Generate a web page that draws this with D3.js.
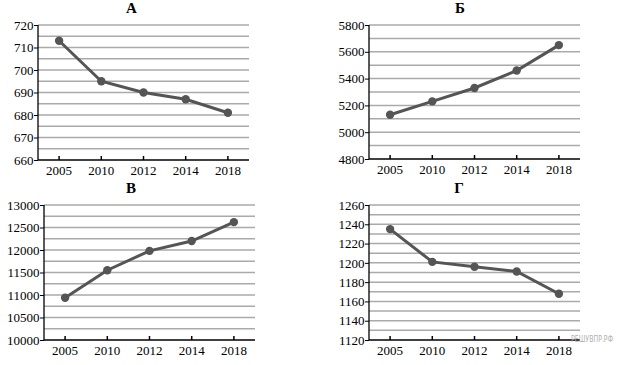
<!DOCTYPE html>
<html><head><meta charset="utf-8">
<script src="https://cdn.jsdelivr.net/npm/d3@7"></script>
<style>body{margin:0;background:#fff}svg{display:block}
.ser{font-family:"Liberation Serif","Times New Roman",Times,serif}</style>
</head><body>
<svg id="c" width="620" height="365"></svg>
<script>
const years = ["2005","2010","2012","2014","2018"];
const titles = ["А","Б","В","Г"];
const valuesA = [713, 695, 690, 687, 681];
const valuesB = [5130, 5230, 5330, 5460, 5650];
const valuesV = [10940, 11550, 11980, 12200, 12620];
const valuesG = [1235, 1201, 1196, 1191, 1168];
const domainsY = [[660,720],[4800,5800],[10000,13000],[1120,1260]];
const ticksY = [
  [660,670,680,690,700,710,720],
  [4800,5000,5200,5400,5600,5800],
  [10000,10500,11000,11500,12000,12500,13000],
  [1120,1140,1160,1180,1200,1220,1240,1260]
];
const gridSteps = [5, 100, 250, 10];
const series = [valuesA, valuesB, valuesV, valuesG];

const panels = [
  {x0:38, x1:249, y0:25, y1:160, tx:131.5, ty:13},
  {x0:369, x1:580, y0:25, y1:159, tx:460, ty:13},
  {x0:44, x1:255, y0:205, y1:340, tx:131, ty:193},
  {x0:369, x1:580, y0:205, y1:340, tx:459, ty:193}
];
const svg = d3.select("#c");
const col = "#555";

panels.forEach((p,i)=>{
  const g = svg.append("g");
  const x = d3.scaleBand().domain(years).range([p.x0,p.x1]);
  const y = d3.scaleLinear().domain(domainsY[i]).range([p.y1,p.y0]);
  const [d0,d1] = domainsY[i];
  const grid = d3.range(d0+gridSteps[i], d1+gridSteps[i]/2, gridSteps[i]);
  g.selectAll("line.grid").data(grid).join("line")
    .attr("x1",p.x0).attr("x2",p.x1)
    .attr("y1",d=>y(d)).attr("y2",d=>y(d))
    .attr("stroke","#aaa").attr("stroke-width",1.5);
  // y axis
  const ya = g.append("g").attr("transform",`translate(${p.x0},0)`)
    .call(d3.axisLeft(y).tickValues(ticksY[i]).tickSize(4).tickPadding(0.5).tickFormat(d3.format("d")));
  ya.attr("font-family",null);
  ya.select(".domain").attr("stroke","#000").attr("stroke-width",1.3).attr("d",`M0,${p.y1}V${p.y0}`);
  ya.selectAll("line").attr("stroke","#000");
  ya.selectAll("text").attr("class","ser").attr("font-size",13).attr("fill","#000");
  // x axis
  const xa = g.append("g").attr("transform",`translate(0,${p.y1})`)
    .call(d3.axisBottom(x).tickSize(-4).tickPadding(6));
  xa.attr("font-family",null);
  xa.select(".domain").attr("stroke","#000").attr("stroke-width",1.3).attr("d",`M${p.x0},0H${p.x1}`);
  xa.selectAll("line").attr("stroke","#000").attr("stroke-width",1.5);
  xa.selectAll("text").attr("class","ser").attr("font-size",13).attr("fill","#000");
  // line
  const cx = d=>x(d)+x.bandwidth()/2;
  const vals = series[i];
  g.append("path").datum(vals.map((v,k)=>[years[k],v]))
    .attr("fill","none").attr("stroke",col).attr("stroke-width",3)
    .attr("d",d3.line().x(d=>cx(d[0])).y(d=>y(d[1])));
  g.selectAll("circle").data(vals).join("circle")
    .attr("cx",(d,k)=>cx(years[k])).attr("cy",d=>y(d)).attr("r",4.2).attr("fill",col);
  g.append("text").attr("class","ser").attr("x",p.tx).attr("y",p.ty).attr("text-anchor","middle")
    .attr("font-weight","bold").attr("font-size",15).text(titles[i]);
});
svg.append("text").attr("x",571).attr("y",342).attr("font-family","'DejaVu Sans Condensed','DejaVu Sans',sans-serif")
  .attr("font-size",8).attr("textLength",42).attr("lengthAdjust","spacingAndGlyphs")
  .attr("fill","#b0b0b0").text("РЕШУВПР.РФ");
</script>
</body></html>
